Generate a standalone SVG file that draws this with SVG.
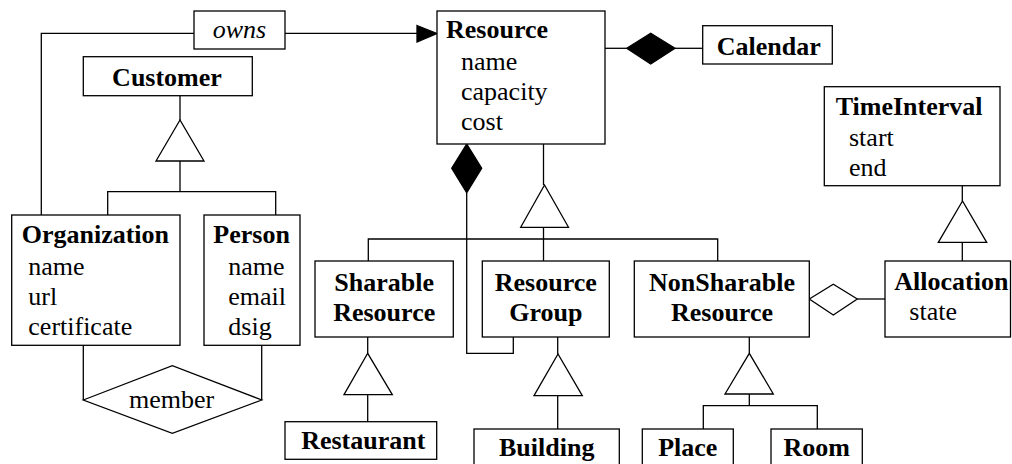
<svg xmlns="http://www.w3.org/2000/svg" width="1012" height="464" viewBox="0 0 1012 464">
<style>
  .box{fill:#fff;stroke:#000;stroke-width:1.3}
  .ln{fill:none;stroke:#000;stroke-width:1.3}
  .tri{fill:#fff;stroke:#000;stroke-width:1.3}
  .fd{fill:#000;stroke:#000;stroke-width:1.3}
  .hd{fill:#fff;stroke:#000;stroke-width:1.3}
  text{font-family:"Liberation Serif","Times New Roman",serif;font-size:26px;fill:#000}
  .b{font-weight:bold}
  .i{font-style:italic}
  .c{text-anchor:middle}
</style>
<rect width="1012" height="464" fill="#fff"/>
<g id="connectors">
  <!-- owns association -->
  <polyline class="ln" points="41.3,215 41.3,33.3 194,33.3"/>
  <line class="ln" x1="285" y1="33.3" x2="420" y2="33.3"/>
  <polygon class="fd" points="417,25.5 437,33.5 417,42"/>
  <!-- Customer generalization -->
  <line class="ln" x1="180" y1="96" x2="180" y2="120"/>
  <polygon class="tri" points="180,120 156,161 204,161"/>
  <polyline class="ln" points="180,161 180,191.7"/>
  <polyline class="ln" points="107.7,215 107.7,191.7 275.7,191.7 275.7,215"/>
  <!-- member -->
  <line class="ln" x1="83.3" y1="345.3" x2="83.3" y2="400"/>
  <line class="ln" x1="261.7" y1="345.3" x2="261.7" y2="400"/>
  <!-- Calendar composition -->
  <line class="ln" x1="605" y1="48.3" x2="626.7" y2="48.3"/>
  <polygon class="fd" points="626.7,48.3 650.7,33.3 675,48.3 650.7,64"/>
  <line class="ln" x1="675" y1="48.3" x2="702.7" y2="48.3"/>
  <!-- ResourceGroup composition -->
  <polygon class="fd" points="466.7,144 451.7,168.3 466.7,192.7 481.7,168.3"/>
  <polyline class="ln" points="466.7,192.7 466.7,353.3 513.3,353.3 513.3,337"/>
  <!-- Resource generalization -->
  <line class="ln" x1="543.5" y1="144" x2="543.5" y2="185"/>
  <polygon class="tri" points="544.5,185 520.7,227.3 568.5,227.3"/>
  <line class="ln" x1="543.5" y1="227.3" x2="543.5" y2="261"/>
  <polyline class="ln" points="368.3,261 368.3,239 717.7,239 717.7,261"/>
  <!-- Sharable generalization -->
  <line class="ln" x1="367.7" y1="337" x2="367.7" y2="353.3"/>
  <polygon class="tri" points="367.7,353.3 344,394.7 392.3,394.7"/>
  <line class="ln" x1="367.7" y1="394.7" x2="367.7" y2="421.7"/>
  <!-- ResourceGroup generalization -->
  <line class="ln" x1="557.7" y1="337" x2="557.7" y2="354"/>
  <polygon class="tri" points="558,354 534,395.7 582.3,395.7"/>
  <line class="ln" x1="557.7" y1="395.7" x2="557.7" y2="429"/>
  <!-- NonSharable generalization -->
  <line class="ln" x1="749.3" y1="337" x2="749.3" y2="353.3"/>
  <polygon class="tri" points="749.3,353.3 725,394 773.3,394"/>
  <line class="ln" x1="749.3" y1="394" x2="749.3" y2="405.7"/>
  <polyline class="ln" points="703.3,429 703.3,405.7 817.3,405.7 817.3,429"/>
  <!-- Allocation aggregation -->
  <polygon class="hd" points="809.3,299 833.3,284.3 857.3,299 833.3,315"/>
  <line class="ln" x1="857.3" y1="299" x2="885" y2="299"/>
  <!-- TimeInterval generalization -->
  <line class="ln" x1="962.3" y1="185.7" x2="962.3" y2="201"/>
  <polygon class="tri" points="962.5,201 938.3,242.3 986.7,242.3"/>
  <line class="ln" x1="962.3" y1="242.3" x2="962.3" y2="261"/>
</g>
<g id="owns">
  <rect class="box" x="194" y="11" width="91" height="38"/>
  <text class="i c" x="239.5" y="38">owns</text>
</g>
<g id="customer">
  <rect class="box" x="83.3" y="56.7" width="169" height="39"/>
  <text class="b c" x="167" y="86">Customer</text>
</g>
<g id="organization">
  <rect class="box" x="11.7" y="215" width="168.3" height="130.3"/>
  <text class="b" x="21.7" y="243">Organization</text>
  <text x="28.3" y="275">name</text>
  <text x="28.3" y="305">url</text>
  <text x="28.3" y="335">certificate</text>
</g>
<g id="person">
  <rect class="box" x="204" y="215" width="96" height="130.3"/>
  <text class="b" x="213.3" y="243">Person</text>
  <text x="228.3" y="275">name</text>
  <text x="228.3" y="305">email</text>
  <text x="228.3" y="335">dsig</text>
</g>
<g id="member">
  <polygon class="hd" points="83.3,400 172.3,365.7 261.7,400 172.3,433.3"/>
  <text class="c" x="171.7" y="408.3">member</text>
</g>
<g id="resource">
  <rect class="box" x="437" y="11" width="168" height="133"/>
  <text class="b" x="446" y="38">Resource</text>
  <text x="461" y="70">name</text>
  <text x="461" y="100">capacity</text>
  <text x="461" y="130">cost</text>
</g>
<g id="calendar">
  <rect class="box" x="702.7" y="25.7" width="129.6" height="38.3"/>
  <text class="b c" x="768.7" y="55">Calendar</text>
</g>
<g id="timeinterval">
  <rect class="box" x="824.3" y="86.7" width="175.7" height="99"/>
  <text class="b" x="835.7" y="115">TimeInterval</text>
  <text x="849" y="146">start</text>
  <text x="849" y="175.7">end</text>
</g>
<g id="sharable">
  <rect class="box" x="315" y="261" width="138.3" height="76"/>
  <text class="b c" x="384.2" y="291">Sharable</text>
  <text class="b c" x="384.2" y="321">Resource</text>
</g>
<g id="resourcegroup">
  <rect class="box" x="482.3" y="261" width="127" height="76"/>
  <text class="b c" x="545.8" y="291">Resource</text>
  <text class="b c" x="545.8" y="321">Group</text>
</g>
<g id="nonsharable">
  <rect class="box" x="634.3" y="261" width="175" height="76"/>
  <text class="b c" x="722" y="291">NonSharable</text>
  <text class="b c" x="722" y="321">Resource</text>
</g>
<g id="allocation">
  <rect class="box" x="885" y="261" width="125.5" height="76"/>
  <text class="b" x="894.3" y="290">Allocation</text>
  <text x="909.3" y="320">state</text>
</g>
<g id="restaurant">
  <rect class="box" x="285" y="421.7" width="151.7" height="37.6"/>
  <text class="b c" x="363.3" y="449">Restaurant</text>
</g>
<g id="building">
  <rect class="box" x="474" y="429" width="145.3" height="45"/>
  <text class="b c" x="546.7" y="456">Building</text>
</g>
<g id="place">
  <rect class="box" x="642.3" y="429" width="91" height="45"/>
  <text class="b c" x="687.8" y="456">Place</text>
</g>
<g id="room">
  <rect class="box" x="771" y="429" width="91.3" height="45"/>
  <text class="b c" x="816.7" y="456">Room</text>
</g>
</svg>
